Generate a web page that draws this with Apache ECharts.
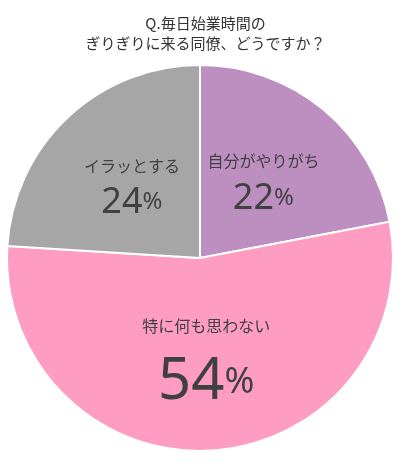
<!DOCTYPE html>
<html><head><meta charset="utf-8">
<script src="https://cdn.jsdelivr.net/npm/echarts@6/dist/echarts.min.js"></script>
<style>html,body{margin:0;padding:0;background:#fff}#c{width:411px;height:472px}</style>
</head><body><div id="c"></div>
<script>
const categories = ['自分がやりがち', '特に何も思わない', 'イラッとする'];
const values = [22, 54, 24];
const colors = ['#bd8ec0', '#fe9cc1', '#a6a6a6'];
const chart = echarts.init(document.getElementById('c'));
const rich = {
  n: {fontSize: 16, color: '#404040', fontFamily: 'Noto Sans CJK JP', lineHeight: 34},
  v: {fontSize: 36, color: '#404040', fontFamily: 'Noto Sans', lineHeight: 40},
  p: {fontSize: 24, color: '#404040', fontFamily: 'Noto Sans', lineHeight: 40},
  n2: {fontSize: 16, color: '#404040', fontFamily: 'Noto Sans CJK JP', lineHeight: 50},
  v2: {fontSize: 58, color: '#404040', fontFamily: 'Noto Sans', lineHeight: 62},
  p2: {fontSize: 36, color: '#404040', fontFamily: 'Noto Sans', lineHeight: 62}
};
chart.setOption({
  title: {text: 'Q.毎日始業時間の\nぎりぎりに来る同僚、どうですか？', left: 'center', top: 8,
    textStyle: {fontSize: 15, fontWeight: 'normal', color: '#333', fontFamily: 'Noto Sans CJK JP', lineHeight: 20}},
  series: [{
    type: 'pie', center: [200, 258], radius: [0, 193], startAngle: 90, clockwise: true,
    label: {position: 'inside', rich: rich,
      formatter: p => p.value === 54 ? `{n2|${p.name}}\n{v2|${p.value}}{p2|%}` : `{n|${p.name}}\n{v|${p.value}}{p|%}`},
    labelLine: {show: false},
    itemStyle: {borderColor: '#fff', borderWidth: 2},
    emphasis: {disabled: true},
    data: categories.map((c, i) => ({name: c, value: values[i], itemStyle: {color: colors[i]}}))
  }]
});
</script></body></html>
